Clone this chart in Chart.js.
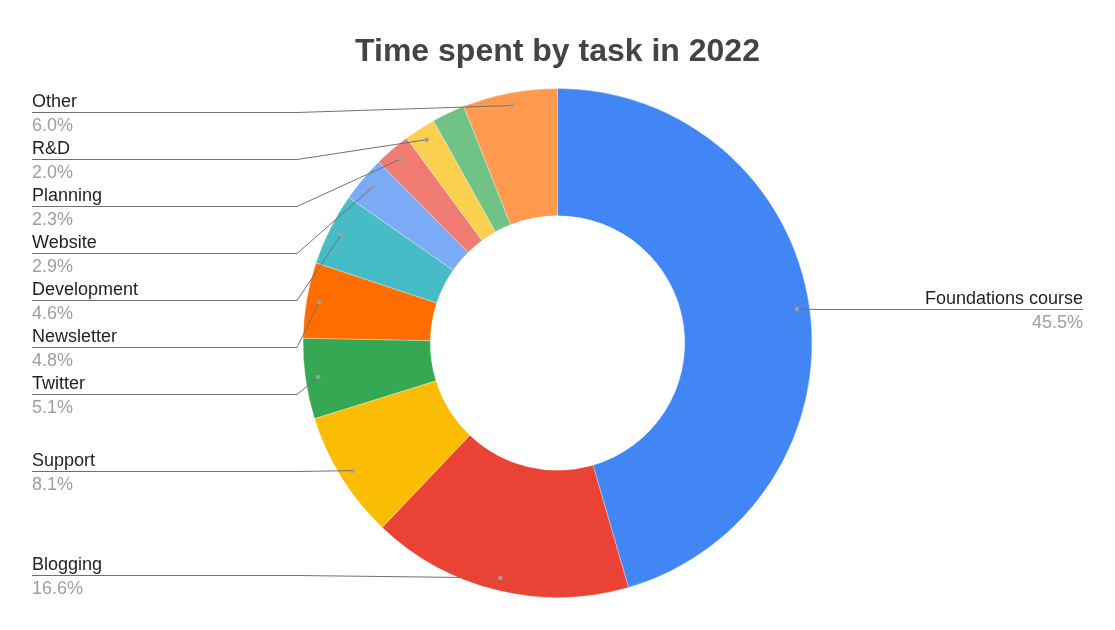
<!DOCTYPE html>
<html>
<head>
<meta charset="utf-8">
<script src="https://cdn.jsdelivr.net/npm/chart.js@4"></script>
<style>
  html, body { margin: 0; padding: 0; background: #fff; }
  #wrap { width: 1115px; height: 630px; }
</style>
</head>
<body>
<div id="wrap"><canvas id="c" width="1115" height="630"></canvas></div>
<script>
// ---- data (clockwise from 12 o'clock) ----
const categories = ['Foundations course', 'Blogging', 'Support', 'Twitter', 'Newsletter',
                    'Development', 'Website', 'Planning', 'R&D', '', 'Other'];
// the light-green slice carries no label in the reference
const values = [45.5, 16.6, 8.1, 5.1, 4.8, 4.6, 2.9, 2.3, 2.0, 2.1, 6.0];
const colors = ['#4285F4', '#EA4335', '#FBBC04', '#34A853', '#FF6D01',
                '#46BDC6', '#7BAAF7', '#F07B72', '#FCD04F', '#71C287', '#FF994D'];
const chartTitle = 'Time spent by task in 2022';

const FONT = "'Liberation Sans', Arial, sans-serif";

const calloutPlugin = {
  id: 'callouts',
  afterDatasetsDraw(chart) {
    const ctx = chart.ctx;
    const meta = chart.getDatasetMeta(0);
    const total = values.reduce((a, b) => a + b, 0);
    const W = chart.width;
    const gap = 47, minY = 112, maxY = 575;
    const leftX = 32, bendL = 297;
    const rightX = W - 32, bendR = W - 297;
    const items = [];
    meta.data.forEach((arc, i) => {
      if (!categories[i]) return;
      const p = arc.getProps(['x', 'y', 'startAngle', 'endAngle', 'outerRadius'], true);
      const mid = (p.startAngle + p.endAngle) / 2;
      const r = p.outerRadius * 0.95;
      const ax = p.x + Math.cos(mid) * r;
      const ay = p.y + Math.sin(mid) * r;
      const side = Math.cos(mid) >= 0 ? 'right' : 'left';
      const pct = (values[i] / total * 100).toFixed(1) + '%';
      items.push({ i, ax, ay, side, pct, y: ay });
    });
    ['left', 'right'].forEach(side => {
      const list = items.filter(o => o.side === side).sort((a, b) => a.ay - b.ay);
      for (let k = 0; k < list.length; k++) {
        let y = Math.max(list[k].ay, minY);
        if (k > 0) y = Math.max(y, list[k - 1].y + gap);
        list[k].y = y;
      }
      for (let k = list.length - 1; k >= 0; k--) {
        let y = Math.min(list[k].y, maxY);
        if (k < list.length - 1) y = Math.min(y, list[k + 1].y - gap);
        list[k].y = y;
      }
    });
    ctx.save();
    items.forEach(o => {
      const ly = Math.round(o.y) + 0.5;
      ctx.strokeStyle = '#707070';
      ctx.lineWidth = 1;
      ctx.beginPath();
      if (o.side === 'left') {
        ctx.moveTo(o.ax, o.ay);
        ctx.lineTo(bendL, ly);
        ctx.lineTo(leftX, ly);
      } else {
        ctx.moveTo(o.ax, o.ay);
        ctx.lineTo(Math.max(o.ax, bendR), ly);
        ctx.lineTo(rightX, ly);
      }
      ctx.stroke();
      ctx.fillStyle = '#9e9e9e';
      ctx.beginPath();
      ctx.arc(o.ax, o.ay, 2.2, 0, Math.PI * 2);
      ctx.fill();
      ctx.textAlign = o.side === 'left' ? 'left' : 'right';
      ctx.textBaseline = 'alphabetic';
      const tx = o.side === 'left' ? leftX : rightX;
      ctx.font = '18px ' + FONT;
      ctx.fillStyle = '#1f1f1f';
      ctx.fillText(categories[o.i], tx, ly - 6);
      ctx.fillStyle = '#9e9e9e';
      ctx.fillText(o.pct, tx, ly + 18.5);
    });
    ctx.restore();
  }
};

new Chart(document.getElementById('c'), {
  type: 'doughnut',
  data: {
    labels: categories,
    datasets: [{
      data: values,
      backgroundColor: colors,
      borderColor: 'rgba(255,255,255,0.3)',
      borderWidth: 1
    }]
  },
  options: {
    responsive: false,
    maintainAspectRatio: false,
    animation: false,
    cutout: '50%',
    layout: { padding: { top: 0, bottom: 32, left: 0, right: 0 } },
    plugins: {
      legend: { display: false },
      tooltip: { enabled: false },
      title: {
        display: true,
        text: chartTitle,
        color: '#444444',
        font: { family: FONT, size: 32, weight: 'bold' },
        padding: { top: 33, bottom: 16.6 }
      }
    }
  },
  plugins: [calloutPlugin]
});
</script>
</body>
</html>
